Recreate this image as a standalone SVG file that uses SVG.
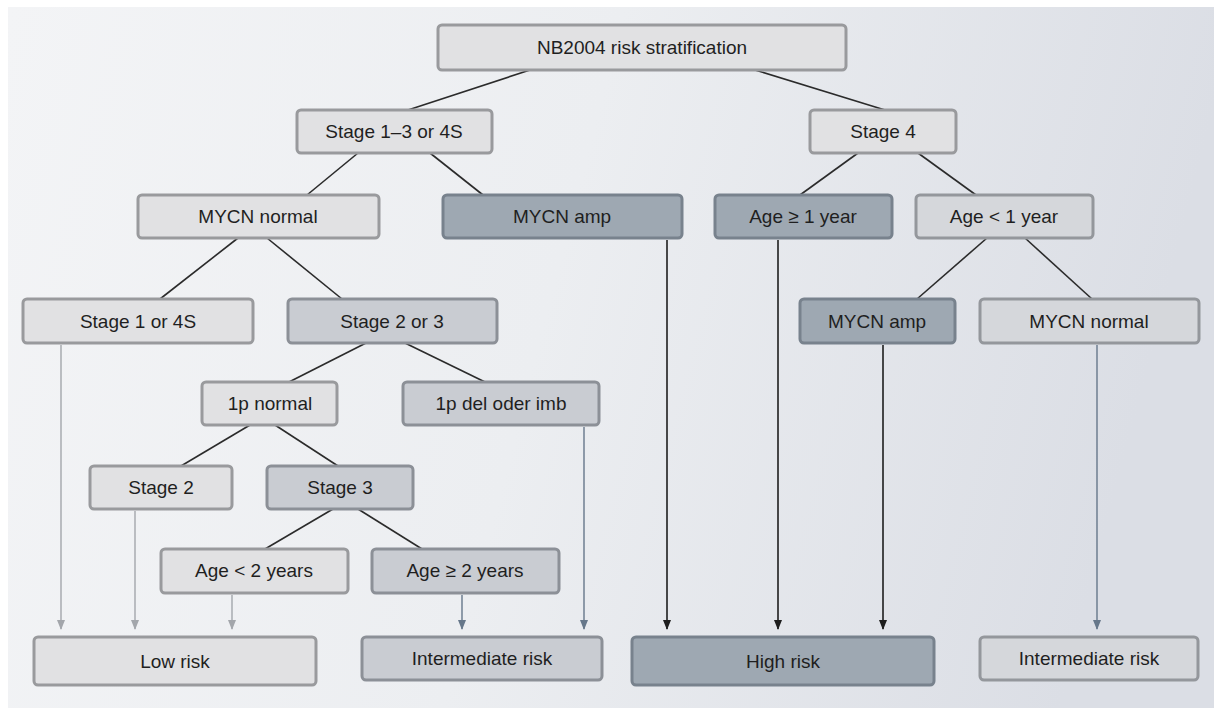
<svg xmlns="http://www.w3.org/2000/svg" width="1214" height="708" viewBox="0 0 1214 708">
<defs>
<linearGradient id="bg" x1="0" y1="0" x2="1" y2="0.15">
<stop offset="0" stop-color="#f3f4f6"/>
<stop offset="0.5" stop-color="#eceef1"/>
<stop offset="1" stop-color="#dbdee5"/>
</linearGradient>
<marker id="ahL" markerWidth="8" markerHeight="10" refX="4" refY="9" markerUnits="userSpaceOnUse" viewBox="0 0 8 10"><path d="M0,0 L8,0 L4,10 Z" fill="#a3a6ab"/></marker>
<marker id="ahM" markerWidth="8" markerHeight="10" refX="4" refY="9" markerUnits="userSpaceOnUse" viewBox="0 0 8 10"><path d="M0,0 L8,0 L4,10 Z" fill="#66778a"/></marker>
<marker id="ahD" markerWidth="8" markerHeight="10" refX="4" refY="9" markerUnits="userSpaceOnUse" viewBox="0 0 8 10"><path d="M0,0 L8,0 L4,10 Z" fill="#1e1e1e"/></marker>
</defs>
<style>
.box{stroke-width:3;rx:4;ry:4}
.light{fill:#e1e1e3;stroke:#999a9d}
.mid{fill:#c9ccd2;stroke:#8c9097}
.pale{fill:#d5d7db;stroke:#94979c}
.dark{fill:#9ea8b2;stroke:#78828d}
text{font-family:"Liberation Sans",Arial,sans-serif;font-size:19px;fill:#1f1f1f;text-anchor:middle}
.ln{stroke:#2b2b2b;stroke-width:1.6;fill:none}
.aL{stroke:#a3a6ab;stroke-width:1.4;fill:none;marker-end:url(#ahL)}
.aM{stroke:#66778a;stroke-width:1.4;fill:none;marker-end:url(#ahM)}
.aD{stroke:#1e1e1e;stroke-width:1.6;fill:none;marker-end:url(#ahD)}
</style>
<rect x="0" y="0" width="1214" height="708" fill="#ffffff"/>
<rect x="8" y="7" width="1206" height="701" fill="url(#bg)"/>

<g id="connectors">
<line class="ln" x1="530" y1="70" x2="408" y2="110"/>
<line class="ln" x1="755" y1="70" x2="885" y2="110"/>
<line class="ln" x1="358" y1="153" x2="307" y2="195"/>
<line class="ln" x1="430" y1="153" x2="483" y2="195"/>
<line class="ln" x1="858" y1="153" x2="800" y2="195"/>
<line class="ln" x1="918" y1="153" x2="976" y2="195"/>
<line class="ln" x1="238" y1="238" x2="160" y2="299"/>
<line class="ln" x1="267" y1="238" x2="342" y2="299"/>
<line class="ln" x1="987" y1="238" x2="917" y2="299"/>
<line class="ln" x1="1025" y1="238" x2="1092" y2="299"/>
<line class="ln" x1="366" y1="343" x2="289" y2="382"/>
<line class="ln" x1="405" y1="343" x2="485" y2="382"/>
<line class="ln" x1="250" y1="425" x2="181" y2="466"/>
<line class="ln" x1="275" y1="425" x2="338" y2="466"/>
<line class="ln" x1="333" y1="509" x2="265" y2="549"/>
<line class="ln" x1="358" y1="509" x2="422" y2="549"/>
<line class="aL" x1="61" y1="345" x2="61" y2="629"/>
<line class="aL" x1="135" y1="511" x2="135" y2="629"/>
<line class="aL" x1="232" y1="595" x2="232" y2="629"/>
<line class="aM" x1="462" y1="595" x2="462" y2="629"/>
<line class="aM" x1="584" y1="427" x2="584" y2="629"/>
<line class="aD" x1="667" y1="240" x2="667" y2="629"/>
<line class="aD" x1="778" y1="240" x2="778" y2="629"/>
<line class="aD" x1="883" y1="345" x2="883" y2="629"/>
<line class="aM" x1="1097" y1="345" x2="1097" y2="629"/>
</g>

<g id="n-root"><rect class="box light" x="438" y="25" width="408" height="45"/><text x="642" y="54">NB2004 risk stratification</text></g>
<g id="n-stage13"><rect class="box light" x="297" y="110" width="195" height="43"/><text x="394" y="138">Stage 1–3 or 4S</text></g>
<g id="n-stage4"><rect class="box light" x="810" y="110" width="146" height="43"/><text x="883" y="138">Stage 4</text></g>
<g id="n-mycn-normal"><rect class="box light" x="138" y="195" width="241" height="43"/><text x="258" y="223">MYCN normal</text></g>
<g id="n-mycn-amp"><rect class="box dark" x="443" y="195" width="239" height="43"/><text x="562" y="223">MYCN amp</text></g>
<g id="n-age-ge1"><rect class="box dark" x="715" y="195" width="177" height="43"/><text x="803" y="223">Age ≥ 1 year</text></g>
<g id="n-age-lt1"><rect class="box pale" x="916" y="195" width="177" height="43"/><text x="1004" y="223">Age &lt; 1 year</text></g>
<g id="n-stage1-4s"><rect class="box light" x="23" y="299" width="230" height="44"/><text x="138" y="328">Stage 1 or 4S</text></g>
<g id="n-stage23"><rect class="box mid" x="288" y="299" width="209" height="44"/><text x="392" y="328">Stage 2 or 3</text></g>
<g id="n-mycn-amp2"><rect class="box dark" x="800" y="299" width="155" height="44"/><text x="877" y="328">MYCN amp</text></g>
<g id="n-mycn-normal2"><rect class="box pale" x="980" y="299" width="219" height="44"/><text x="1089" y="328">MYCN normal</text></g>
<g id="n-1p-normal"><rect class="box light" x="202" y="382" width="135" height="43"/><text x="270" y="410">1p normal</text></g>
<g id="n-1p-del"><rect class="box mid" x="403" y="382" width="196" height="43"/><text x="501" y="410">1p del oder imb</text></g>
<g id="n-stage2"><rect class="box light" x="90" y="466" width="142" height="43"/><text x="161" y="494">Stage 2</text></g>
<g id="n-stage3"><rect class="box mid" x="267" y="466" width="146" height="43"/><text x="340" y="494">Stage 3</text></g>
<g id="n-age-lt2"><rect class="box light" x="161" y="549" width="187" height="44"/><text x="254" y="577">Age &lt; 2 years</text></g>
<g id="n-age-ge2"><rect class="box mid" x="372" y="549" width="187" height="44"/><text x="465" y="577">Age ≥ 2 years</text></g>
<g id="n-low"><rect class="box light" x="34" y="637" width="282" height="48"/><text x="175" y="668">Low risk</text></g>
<g id="n-int1"><rect class="box mid" x="362" y="637" width="240" height="43"/><text x="482" y="665">Intermediate risk</text></g>
<g id="n-high"><rect class="box dark" x="632" y="637" width="302" height="48"/><text x="783" y="668">High risk</text></g>
<g id="n-int2"><rect class="box pale" x="980" y="637" width="218" height="43"/><text x="1089" y="665">Intermediate risk</text></g>
</svg>
